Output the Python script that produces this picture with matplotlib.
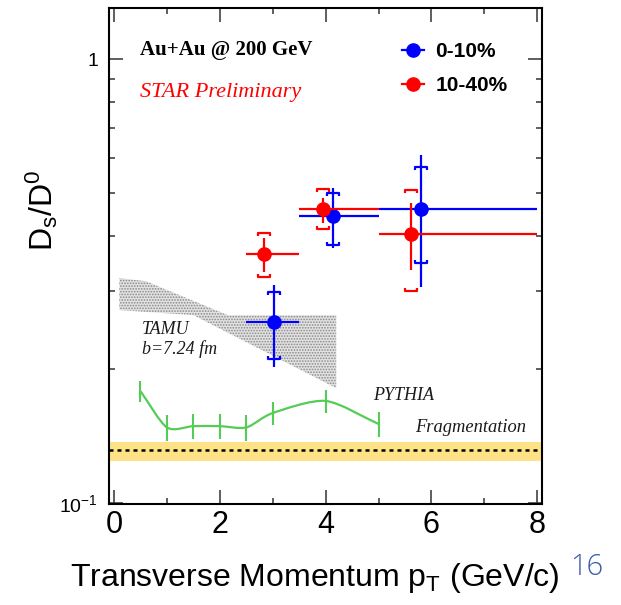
import numpy as np
import matplotlib
matplotlib.use("Agg")
import matplotlib.pyplot as plt
from matplotlib.path import Path
from matplotlib.patches import PathPatch
from matplotlib.lines import Line2D
from matplotlib.ticker import FixedLocator, FixedFormatter, NullFormatter

plt.rcParams['mathtext.fontset'] = 'custom'
plt.rcParams['mathtext.rm'] = 'Liberation Sans'
plt.rcParams['mathtext.it'] = 'Liberation Sans:italic'
plt.rcParams['font.family'] = ['Liberation Sans', 'DejaVu Sans']
plt.rcParams['hatch.linewidth'] = 0.8

# ---------------- data ----------------
# 0-10% centrality
c010_x = [3.03, 4.14, 5.80]
c010_y = [0.256, 0.443, 0.459]
c010_bin_lo = [2.5, 3.5, 5.0]
c010_bin_hi = [3.5, 5.0, 8.0]
c010_stat_lo = [0.202, 0.375, 0.3065]
c010_stat_hi = [0.310, 0.512, 0.607]
c010_sys_lo = [0.211, 0.381, 0.347]
c010_sys_hi = [0.2985, 0.500, 0.571]

# 10-40% centrality
c1040_x = [2.84, 3.95, 5.61]
c1040_y = [0.364, 0.459, 0.404]
c1040_bin_lo = [2.5, 3.5, 5.0]
c1040_bin_hi = [3.5, 5.0, 8.0]
c1040_stat_lo = [0.331, 0.427, 0.335]
c1040_stat_hi = [0.396, 0.486, 0.474]
c1040_sys_lo = [0.323, 0.414, 0.300]
c1040_sys_hi = [0.405, 0.510, 0.507]

# PYTHIA
pythia_x = [0.5, 1.0, 1.5, 2.0, 2.5, 3.0, 4.0, 5.0]
pythia_y = [0.1786, 0.148, 0.149, 0.149, 0.148, 0.1595, 0.1698, 0.1507]
pythia_err = [0.0095, 0.0099, 0.0099, 0.0099, 0.0099, 0.0098, 0.0100, 0.0100]

# TAMU band
tamu_up_x = [0.1, 0.6, 2.15, 4.2]
tamu_up_y = [0.321, 0.316, 0.265, 0.265]
tamu_lo_x = [0.1, 1.5, 4.2]
tamu_lo_y = [0.272, 0.265, 0.1815]

# Fragmentation baseline
frag_val = 0.1316
frag_lo = 0.1244
frag_hi = 0.137

legend_labels = ['0-10%', '10-40%']
x_ticks = [0, 2, 4, 6, 8]
x_minor = [1, 3, 5, 7]
y_major = [0.1, 1.0]
y_major_labels = ['$10^{-1}$', '1']
y_minor = [0.2, 0.3, 0.4, 0.5, 0.6, 0.7, 0.8, 0.9]

# ---------------- figure ----------------
W, H = 621, 605
fig = plt.figure(figsize=(W / 100, H / 100), dpi=100)
L, R, T, B = 109, 542, 8, 504
ax = fig.add_axes([L / W, 1 - B / H, (R - L) / W, (B - T) / H])
ax.set_yscale('log')
ax.set_xlim(-0.095, 8.09)
ax.set_ylim(0.0995, 1.303)

BLUE = '#0000ff'
RED = '#ff0000'
GREEN = '#55cc55'

# fragmentation band
ax.axhspan(frag_lo, frag_hi, color='#ffe285', lw=0, zorder=1)
ax.axhline(frag_val, color='black', lw=1.8, ls=(0, (1.6, 1.6)), zorder=2)

# TAMU band
poly_x = list(tamu_up_x) + list(tamu_lo_x[::-1])
poly_y = list(tamu_up_y) + list(tamu_lo_y[::-1])
ax.fill(poly_x, poly_y, facecolor='#e2e2e2', edgecolor='#888888', hatch='......', lw=0, zorder=1)

# PYTHIA smooth curve (Catmull-Rom-like through the points, in log-y space)
lx = np.array(pythia_x, float)
ly = np.log10(np.array(pythia_y, float))
P = np.column_stack([lx, ly])
Pext = np.vstack([P[0] - (P[1] - P[0]), P, P[-1] + (P[-1] - P[-2])])
verts = [P[0]]
codes = [Path.MOVETO]
k = 7.5
for i in range(1, len(Pext) - 2):
    p0, p1, p2, p3 = Pext[i - 1], Pext[i], Pext[i + 1], Pext[i + 2]
    c1 = p1 + (p2 - p0) / k
    c2 = p2 - (p3 - p1) / k
    verts += [c1, c2, p2]
    codes += [Path.CURVE4] * 3
verts = np.array(verts)
verts[:, 1] = 10 ** verts[:, 1]
ax.add_patch(PathPatch(Path(verts, codes), fill=False, edgecolor=GREEN, lw=1.6, zorder=3))
ax.errorbar(pythia_x, pythia_y, yerr=pythia_err, fmt='none', ecolor=GREEN, elinewidth=1.5, capsize=0, zorder=3)

# bracket markers for systematic errors
top_br = Path([(-1, -0.55), (-1, 0), (1, 0), (1, -0.55)], [Path.MOVETO, Path.LINETO, Path.LINETO, Path.LINETO])
bot_br = Path([(-1, 0.55), (-1, 0), (1, 0), (1, 0.55)], [Path.MOVETO, Path.LINETO, Path.LINETO, Path.LINETO])


def draw_series(x, y, blo, bhi, slo, shi, ylo, yhi, color, z):
    x = np.array(x); y = np.array(y)
    xerr = [x - np.array(blo), np.array(bhi) - x]
    yerr = [y - np.array(slo), np.array(shi) - y]
    ax.errorbar(x, y, xerr=xerr, yerr=yerr, fmt='o', color=color, ms=9.5, elinewidth=1.6,
                capsize=0, zorder=z)
    ax.plot(x, yhi, ls='none', marker=top_br, ms=8.5, mew=1.6, mec=color, mfc='none', zorder=z)
    ax.plot(x, ylo, ls='none', marker=bot_br, ms=8.5, mew=1.6, mec=color, mfc='none', zorder=z)


draw_series(c010_x, c010_y, c010_bin_lo, c010_bin_hi, c010_stat_lo, c010_stat_hi,
            c010_sys_lo, c010_sys_hi, BLUE, 5)
draw_series(c1040_x, c1040_y, c1040_bin_lo, c1040_bin_hi, c1040_stat_lo, c1040_stat_hi,
            c1040_sys_lo, c1040_sys_hi, RED, 6)

# legend
handles = [Line2D([], [], color=BLUE, marker='o', ms=9.5, lw=1.6),
           Line2D([], [], color=RED, marker='o', ms=9.5, lw=1.6)]
ax.legend(handles, legend_labels, loc='upper left', bbox_to_anchor=((402 - L) / (R - L), (B - 42) / (B - T)),
          frameon=False, prop=dict(family='Liberation Sans', weight='bold', size=15),
          handlelength=1.06, handletextpad=0.55, labelspacing=0.72, borderpad=0, borderaxespad=0)


def afx(px):
    return (px - L) / (R - L)


def afy(py):
    return (B - py) / (B - T)


serif = 'Liberation Serif'
ax.text(afx(140), afy(50), 'Au+Au @ 200 GeV', transform=ax.transAxes, family=serif,
        weight='bold', size=15, va='center', ha='left')
ax.text(afx(140), afy(93), 'STAR Preliminary', transform=ax.transAxes, family=serif,
        style='italic', size=16, color=RED, va='center', ha='left')
ax.text(afx(142), afy(330), 'TAMU', transform=ax.transAxes, family=serif,
        style='italic', size=13, color='#1a1a1a', va='center', ha='left')
ax.text(afx(142), afy(349), 'b=7.24 fm', transform=ax.transAxes, family=serif,
        style='italic', size=13, color='#1a1a1a', va='center', ha='left')
ax.text(afx(373), afy(396), 'PYTHIA', transform=ax.transAxes, family=serif,
        style='italic', size=13, color='#1a1a1a', va='center', ha='left')
ax.text(afx(415), afy(427), 'Fragmentation', transform=ax.transAxes, family=serif,
        style='italic', size=13.3, color='#1a1a1a', va='center', ha='left')

# axes styling
for s in ax.spines.values():
    s.set_linewidth(1.5)
ax.xaxis.set_major_locator(FixedLocator(x_ticks))
ax.xaxis.set_minor_locator(FixedLocator(x_minor))
ax.yaxis.set_major_locator(FixedLocator(y_major))
ax.yaxis.set_major_formatter(FixedFormatter(y_major_labels))
ax.yaxis.set_minor_locator(FixedLocator(y_minor))
ax.yaxis.set_minor_formatter(NullFormatter())
ax.tick_params(which='both', direction='in', top=True, right=True, width=1.1, color='#333333')
ax.tick_params(which='major', length=10)
ax.tick_params(which='minor', length=4.5)
ax.tick_params(axis='x', which='major', labelsize=22, pad=4)
ax.tick_params(axis='y', which='major', labelsize=14, pad=8)

ax.set_xlabel(r'Transverse Momentum p$_{\mathrm{T}}$ (GeV/c)', fontsize=23)
ax.xaxis.set_label_coords(afx(315), afy(561))
ax.set_ylabel(r'$\mathrm{D_s/D^0}$', fontsize=23)
ax.yaxis.set_label_coords(afx(60), afy(210))

fig.text(570 / W, 1 - 567 / H, '16', family='Open Sans', weight='light', size=21,
         color='#3a5ca8', ha='left', va='center')

fig.savefig('out.png', dpi=100)
